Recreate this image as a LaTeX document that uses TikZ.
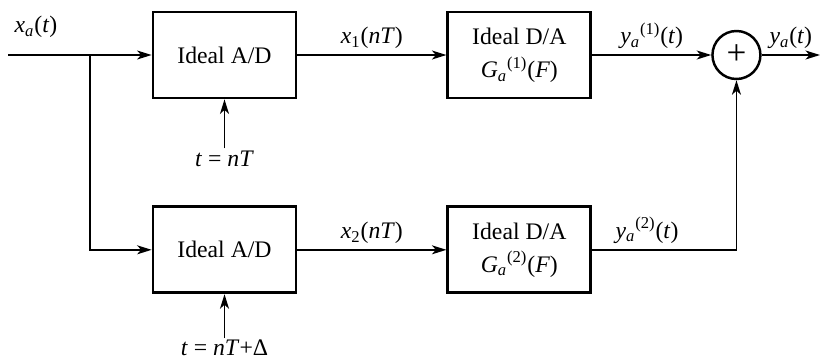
\documentclass[tikz,border=0pt]{standalone}
\usepackage{fontspec}
\setmainfont{Liberation Serif}
\usetikzlibrary{positioning,arrows.meta}
\newcommand{\vi}[1]{\textit{#1}}
\newcommand{\subsup}[3]{\vi{#1}\textsubscript{\vi{a}}\textsuperscript{(#2)}(\vi{#3})}

\begin{document}
\begin{tikzpicture}[
    every node/.style={font=\fontsize{13.5}{18.8}\selectfont},
    blk/.style={rectangle, draw, line width=1.6pt, minimum width=2.86cm,
                minimum height=1.72cm, align=center, inner sep=0pt},
    adder/.style={circle, draw, line width=1.4pt, minimum size=0.96cm, inner sep=0pt},
    arr/.style={-{Stealth[length=2.9mm,width=1.8mm,inset=0.8mm]}, line width=0.8pt}
  ]
  \useasboundingbox (0,0) rectangle (16.4,7.26);

  % upper branch
  \node[blk] (ad1) at (4.49,6.16) {Ideal A/D};
  \node[blk, right=2.98cm of ad1] (da1)
        {Ideal D/A\\\subsup{G}{1}{F}};
  \node[adder, right=2.38cm of da1] (sum) {\fontsize{20}{20}\selectfont +};

  % lower branch
  \node[blk, below=2.12cm of ad1] (ad2) {Ideal A/D};
  \node[blk, below=2.12cm of da1] (da2)
        {Ideal D/A\\\subsup{G}{2}{F}};

  % sampling instants
  \node[below=0.98cm of ad1, inner sep=1pt] (clk1) {\vi{t} = \vi{nT}};
  \node[below=0.88cm of ad2, inner sep=1pt] (clk2) {\vi{t} = \vi{nT}+Δ};

  \coordinate (in) at (0.16,6.16);
  \coordinate (split) at (1.8,6.16);
  \coordinate (out) at (16.4,6.16);
  \node (xa) at (0.72,6.72) {\vi{x}\textsubscript{\vi{a}}(\vi{t})};

  \draw[arr] (in) -- (ad1);
  \draw[arr] (split) |- (ad2);
  \draw[arr] (clk1) -- (ad1);
  \draw[arr] (clk2) -- (ad2);
  \draw[arr] (ad1) -- node[above] {\vi{x}\textsubscript{1}(\vi{nT})} (da1);
  \draw[arr] (ad2) -- node[above] {\vi{x}\textsubscript{2}(\vi{nT})} (da2);
  \draw[arr] (da1) -- node[above] {\subsup{y}{1}{t}} (sum);
  \draw[arr] (da2) -| node[pos=0.19, above] {\subsup{y}{2}{t}} (sum);
  \draw[arr] (sum) -- node[above] {\vi{y}\textsubscript{\vi{a}}(\vi{t})} (out);
\end{tikzpicture}
\end{document}
